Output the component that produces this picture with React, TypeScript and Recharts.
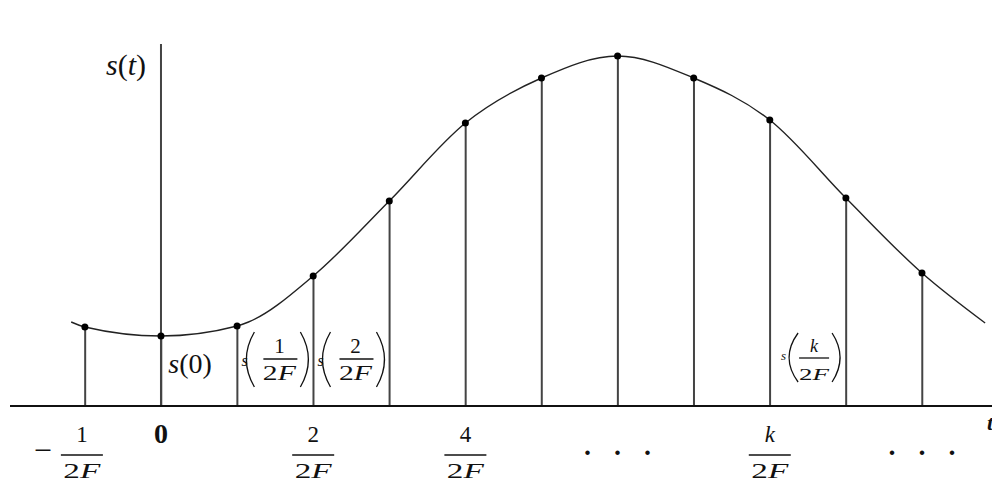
import React from "react";
import { ComposedChart, Line, Bar, XAxis, YAxis, ReferenceLine, LabelList } from "recharts";

// sampled points s(k / 2F), k = -1 .. 10
const sampleT = [-1, 0, 1, 2, 3, 4, 5, 6, 7, 8, 9, 10];
const sampleS = [79, 70, 80, 130, 205, 283, 328, 350, 328, 286, 208, 133];

// the continuous curve runs a little past the first and last samples
const curveT = [-1.18, -1, 0, 1, 1.15, 2, 3, 4, 5, 6, 7, 8, 9, 10, 10.83];
const curveS = [84, 79, 70, 80, 84, 130, 205, 283, 328, 350, 328, 286, 208, 133, 83];

// x axis ticks
const tickT = [-1, 0, 2, 4, 6, 8, 10];
const tickLabels = ["−1/2F", "0", "2/2F", "4/2F", "...", "k/2F", "..."];

// labels written beside some stems
const stemLabelT = [0, 1, 2, 8];
const stemLabelArg = ["0", "1/2F", "2/2F", "k/2F"];

const FONT = "Liberation Serif";
const INK = "#111";

const rows = curveT.map((t, i) => {
  const j = sampleT.indexOf(t);
  return { t, curve: curveS[i], s: j >= 0 ? sampleS[j] : null };
});

function Den({ x, y, size, len }: { x: number; y: number; size: number; len: number }) {
  return (
    <text x={x} y={y} textAnchor="middle" fontSize={size} fontFamily={FONT} fill={INK} textLength={len} lengthAdjust="spacingAndGlyphs">
      2<tspan fontStyle="italic">F</tspan>
    </text>
  );
}

function AxisTick(props: any) {
  const { x, payload } = props;
  const lab = tickLabels[tickT.indexOf(payload.value)];
  if (lab === undefined) return null;
  if (lab === "0") {
    return (
      <text x={x} y={443} textAnchor="middle" fontSize={28} fontWeight="bold" fontFamily={FONT} fill={INK}>
        0
      </text>
    );
  }
  if (lab === "...") {
    return (
      <g fill={INK} fontSize={38} fontFamily={FONT}>
        {[-30, 0, 30].map((d) => (
          <text key={d} x={x + d} y={455} textAnchor="middle">.</text>
        ))}
      </g>
    );
  }
  const neg = lab.startsWith("−");
  const [num] = (neg ? lab.slice(1) : lab).split("/");
  const cx = neg ? x - 3 : x;
  return (
    <g>
      {neg && (
        <text x={x - 42} y={461} textAnchor="middle" fontSize={32} fontFamily={FONT} fill={INK}>−</text>
      )}
      <text x={cx} y={442} textAnchor="middle" fontSize={23} fontFamily={FONT} fontStyle={num === "k" ? "italic" : "normal"} fill={INK}>
        {num}
      </text>
      <line x1={cx - 21} x2={cx + 21} y1={455} y2={455} stroke={INK} strokeWidth={1.5} />
      <Den x={cx} y={478} size={22} len={37} />
    </g>
  );
}

function StemLabel(props: any) {
  const { x, y, width, height, value } = props;
  const i = stemLabelT.indexOf(value);
  if (i < 0 || x == null) return null;
  const sx = x + width / 2;
  const by = y + height;
  const arg = stemLabelArg[i];
  if (!arg.includes("/")) {
    return (
      <text x={sx + 7} y={by - 33} fontSize={28} fontFamily={FONT} fill={INK}>
        <tspan fontStyle="italic">s</tspan>(0)
      </text>
    );
  }
  const num = arg.split("/")[0];
  const small = num === "k";
  const L = small
    ? { s: 11, sy: 46, sz: 13, pl: 28, pc: 10, pr: 62, prc: 78, top: 73, bot: 24, c: 44, ny: 54, nz: 18, b0: 29, b1: 59, by: 48, dy: 26, dz: 17, dl: 30 }
    : { s: 4, sy: 40, sz: 16, pl: 17, pc: 1, pr: 63, prc: 79, top: 74, bot: 19, c: 42, ny: 53, nz: 21, b0: 26, b1: 60, by: 47, dy: 26, dz: 20, dl: 33 };
  const mid = by - (L.top + L.bot) / 2;
  return (
    <g fill={INK} fontFamily={FONT}>
      <text x={sx + L.s} y={by - L.sy} fontSize={L.sz} fontStyle="italic">s</text>
      <path d={`M${sx + L.pl},${by - L.top} Q${sx + L.pc},${mid} ${sx + L.pl},${by - L.bot}`} fill="none" stroke={INK} strokeWidth={1.3} />
      <text x={sx + L.c} y={by - L.ny} textAnchor="middle" fontSize={L.nz} fontStyle={small ? "italic" : "normal"}>
        {num}
      </text>
      <line x1={sx + L.b0} x2={sx + L.b1} y1={by - L.by} y2={by - L.by} stroke={INK} strokeWidth={1.3} />
      <Den x={sx + L.c} y={by - L.dy} size={L.dz} len={L.dl} />
      <path d={`M${sx + L.pr},${by - L.top} Q${sx + L.prc},${mid} ${sx + L.pr},${by - L.bot}`} fill="none" stroke={INK} strokeWidth={1.3} />
    </g>
  );
}

export default function App() {
  return (
    <div style={{ position: "absolute", left: 0, top: 0, width: 992, height: 488, background: "#fff" }}>
      <ComposedChart width={992} height={488} data={rows} margin={{ top: 44, right: 0, bottom: 0, left: 10 }}>
        <XAxis
          type="number"
          dataKey="t"
          domain={[-1.984, 10.92]}
          allowDataOverflow
          ticks={tickT}
          interval={0}
          height={82}
          tickLine={false}
          axisLine={{ stroke: INK, strokeWidth: 2 }}
          tick={<AxisTick />}
          label={{
            content: (p: any) => (
              <text x={p.viewBox.x + p.viewBox.width - 5} y={p.viewBox.y + 24} fontSize={22} fontStyle="italic" fontWeight="bold" fontFamily={FONT} fill={INK}>
                t
              </text>
            ),
          }}
        />
        <YAxis hide domain={[0, 362]} allowDataOverflow />
        <ReferenceLine
          x={0}
          stroke="#444"
          strokeWidth={2}
          label={{
            content: (p: any) => (
              <text x={p.viewBox.x - 55} y={75} fontSize={30} fontFamily={FONT} fill={INK}>
                <tspan fontStyle="italic">s</tspan>(<tspan fontStyle="italic">t</tspan>)
              </text>
            ),
          }}
        />
        <Bar dataKey="s" barSize={2} fill="#444" isAnimationActive={false}>
          <LabelList dataKey="t" content={<StemLabel />} />
        </Bar>
        <Line dataKey="curve" type="monotone" stroke="#222" strokeWidth={1.4} dot={false} isAnimationActive={false} />
        <Line dataKey="s" stroke="none" dot={{ r: 3.5, fill: "#000", stroke: "#000", strokeWidth: 0 }} activeDot={false} isAnimationActive={false} />
      </ComposedChart>
    </div>
  );
}
